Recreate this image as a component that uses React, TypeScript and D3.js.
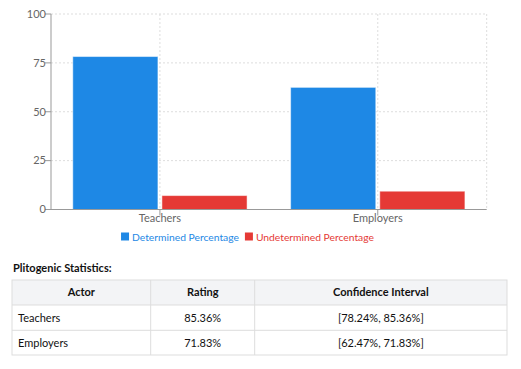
import React, { useLayoutEffect, useRef, useState } from "react";
import * as d3 from "d3";

const categories = ["Teachers", "Employers"];
const determined = [78.24, 62.47];
const undetermined = [7.12, 9.36];
const seriesNames = ["Determined Percentage", "Undetermined Percentage"];
const seriesColors = ["#1E88E5", "#E53935"];
const yTicks = [0, 25, 50, 75, 100];
const tableHeaders = ["Actor", "Rating", "Confidence Interval"];
const ratings = ["85.36%", "71.83%"];
const intervals = ["[78.24%, 85.36%]", "[62.47%, 71.83%]"];

const FONT = "Lato, 'Noto Sans', sans-serif";

export default function App() {
  const W = 521, H = 369;
  const left = 51, right = 486.7, top = 14, bottom = 209.5;
  const x = d3.scaleBand<string>().domain(categories).range([left, right]).paddingInner(0).paddingOuter(0);
  const y = d3.scaleLinear().domain([0, 100]).range([bottom, top]);
  const bw = x.bandwidth();
  const gapCat = bw * 0.1;
  const barGap = 4;
  const barW = (bw - 2 * gapCat - barGap) / 2;
  const series = [determined, undetermined];

  const tX0 = 12, tX1 = 507;
  const colX = [tX0, 150.7, 254.7, tX1];
  const rowY = [280, 305, 330.3, 355];

  const t0 = useRef<SVGTextElement>(null);
  const t1 = useRef<SVGTextElement>(null);
  const [widths, setWidths] = useState<[number, number]>([101, 112]);
  useLayoutEffect(() => {
    if (t0.current && t1.current) {
      setWidths([t0.current.getComputedTextLength(), t1.current.getComputedTextLength()]);
    }
  }, []);
  const sq = 8, sqGap = 3, itemGap = 6;
  const legendCenter = 247.5;
  const total = sq + sqGap + widths[0] + itemGap + sq + sqGap + widths[1];
  const l0 = legendCenter - total / 2;
  const l1 = l0 + sq + sqGap + widths[0] + itemGap;
  const fs = 11;

  return (
    <svg width={W} height={H} style={{ position: "absolute", left: 0, top: 0, fontFamily: FONT }}>
      <rect width={W} height={H} fill="#fff" />
      <g stroke="#ddd" strokeDasharray="2 2" strokeWidth={1}>
        {yTicks.filter((t) => t > 0).map((t) => (
          <line key={t} x1={left} x2={right} y1={y(t)} y2={y(t)} />
        ))}
        {categories.map((c) => (
          <line key={c} x1={x(c)! + bw / 2} x2={x(c)! + bw / 2} y1={top} y2={bottom} />
        ))}
        <line x1={right} x2={right} y1={top} y2={bottom} />
      </g>
      {categories.map((c, i) => (
        <g key={c}>
          {series.map((s, j) => (
            <rect
              key={j}
              x={x(c)! + gapCat + j * (barW + barGap)}
              y={y(s[i])}
              width={barW}
              height={y(0) - y(s[i])}
              fill={seriesColors[j]}
              stroke="#fff"
              strokeOpacity={0.5}
              strokeWidth={1}
            />
          ))}
        </g>
      ))}
      <g fontSize={fs} fill="#666">
        <line x1={left} x2={left} y1={top} y2={bottom} stroke="#999" />
        {yTicks.map((t) => (
          <g key={t}>
            <line x1={left - 6} x2={left} y1={y(t)} y2={y(t)} stroke="#999" />
            <text x={left - 5} y={y(t)} dy="0.35em" textAnchor="end">{t}</text>
          </g>
        ))}
      </g>
      <g fontSize={fs} fill="#666">
        <line x1={left} x2={right} y1={bottom} y2={bottom} stroke="#999" />
        {categories.map((c) => (
          <g key={c}>
            <line x1={x(c)! + bw / 2} x2={x(c)! + bw / 2} y1={bottom} y2={bottom + 6} stroke="#999" />
            <text x={x(c)! + bw / 2} y={bottom + 12} textAnchor="middle">{c}</text>
          </g>
        ))}
      </g>
      <g fontSize={10.3}>
        <rect x={l0} y={232.5} width={sq} height={sq} fill={seriesColors[0]} />
        <text ref={t0} x={l0 + sq + sqGap} y={240.5} fill={seriesColors[0]}>{seriesNames[0]}</text>
        <rect x={l1} y={232.5} width={sq} height={sq} fill={seriesColors[1]} />
        <text ref={t1} x={l1 + sq + sqGap} y={240.5} fill={seriesColors[1]}>{seriesNames[1]}</text>
      </g>
      <text x={13} y={272} fontSize={fs} fontWeight="bold" fill="#111">Plitogenic Statistics:</text>
      <rect x={tX0} y={rowY[0]} width={tX1 - tX0} height={rowY[1] - rowY[0]} fill="#f3f4f6" />
      <g stroke="#ddd" fill="none">
        <rect x={tX0} y={rowY[0]} width={tX1 - tX0} height={rowY[3] - rowY[0]} />
        {rowY.slice(1, 3).map((ry) => (
          <line key={ry} x1={tX0} x2={tX1} y1={ry} y2={ry} />
        ))}
        {colX.slice(1, 3).map((cx) => (
          <line key={cx} x1={cx} x2={cx} y1={rowY[0]} y2={rowY[3]} />
        ))}
      </g>
      <g fontSize={fs} fill="#111">
        {tableHeaders.map((h, k) => (
          <text key={h} x={(colX[k] + colX[k + 1]) / 2} y={(rowY[0] + rowY[1]) / 2} dy="0.35em" textAnchor="middle" fontWeight="bold">{h}</text>
        ))}
        {categories.map((c, i) => {
          const cy = (rowY[i + 1] + rowY[i + 2]) / 2;
          return (
            <g key={c}>
              <text x={18} y={cy} dy="0.35em">{c}</text>
              <text x={(colX[1] + colX[2]) / 2} y={cy} dy="0.35em" textAnchor="middle">{ratings[i]}</text>
              <text x={(colX[2] + colX[3]) / 2} y={cy} dy="0.35em" textAnchor="middle">{intervals[i]}</text>
            </g>
          );
        })}
      </g>
    </svg>
  );
}
